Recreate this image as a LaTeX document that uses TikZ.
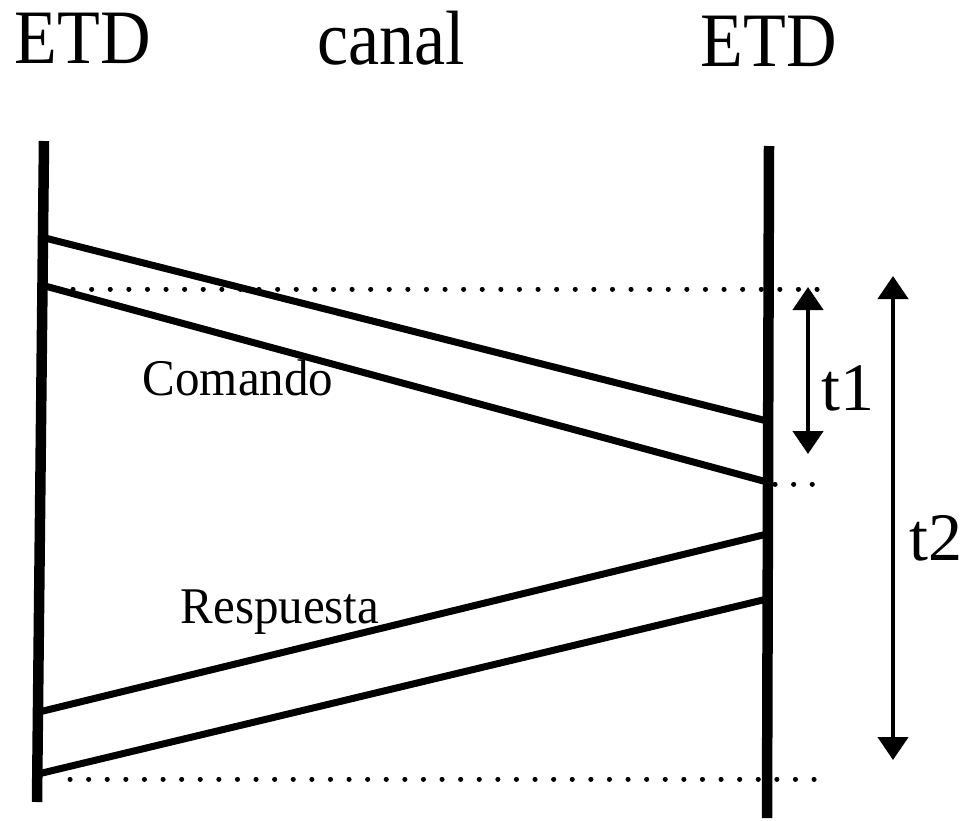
\documentclass[tikz,border=0pt]{standalone}
\usepackage{fontspec}
\setmainfont{Liberation Serif}
\usetikzlibrary{arrows.meta}
\begin{document}
\begin{tikzpicture}[x=1pt,y=-1pt,
  lifeline/.style={line width=10.5pt},
  msg/.style={line width=7pt},
  dotline/.style={line width=5pt,line cap=round,dash pattern=on 0.1pt off 18.5pt},
  dimarrow/.style={line width=4.5pt,{Triangle[width=30pt,length=23pt]}-{Triangle[width=30pt,length=23pt]}},
  title/.style={font=\fontsize{70}{70}\selectfont,anchor=base,inner sep=0pt,yscale=1.1},
  lbl/.style={font=\fontsize{49}{49}\selectfont,anchor=base,inner sep=0pt,yscale=1.05},
  tlbl/.style={font=\fontsize{68}{68}\selectfont,anchor=base,inner sep=0pt}]
\useasboundingbox (0,0) rectangle (966,820);
% titles
\node[title] (etdL) at (83,63) {ETD};
\node[title] (canal) at (391,64) {canal};
\node[title] (etdR) at (769,66) {ETD};
% lifelines
\coordinate (Ltop) at (44,141);
\coordinate (Lbot) at (37,802);
\coordinate (Rtop) at (769,146);
\coordinate (Rbot) at (767,818);
\draw[lifeline] (Ltop) -- (Lbot);
\draw[lifeline] (Rtop) -- (Rbot);
% message endpoints
\coordinate (c1s) at (45,238);
\coordinate (c1e) at (767,421);
\coordinate (c2s) at (45,286);
\coordinate (c2e) at (767,482);
\coordinate (r1s) at (39,712);
\coordinate (r1e) at (767,534);
\coordinate (r2s) at (38,774);
\coordinate (r2e) at (767,599);
\draw[msg] (c1s) -- (c1e);
\draw[msg] (c2s) -- (c2e);
\draw[msg] (r1s) -- (r1e);
\draw[msg] (r2s) -- (r2e);
% dotted guides
\coordinate (d1a) at (73,289);
\coordinate (d1b) at (835,289);
\coordinate (d2a) at (775,484);
\coordinate (d2b) at (815,484);
\coordinate (d3a) at (70,779);
\coordinate (d3b) at (815,779);
\draw[dotline] (d1a) -- (d1b);
\draw[dotline] (d2a) -- (d2b);
\draw[dotline] (d3a) -- (d3b);
% dimension arrows
\coordinate (t1a) at (808,287);
\coordinate (t1b) at (808,454);
\coordinate (t2a) at (893,276);
\coordinate (t2b) at (893,760);
\draw[dimarrow] (t1a) -- (t1b);
\draw[dimarrow] (t2a) -- (t2b);
% labels
\node[lbl] (comando) at (238,395) {Comando};
\node[lbl] (respuesta) at (280,623) {Respuesta};
\node[tlbl] (t1) at (848,410) {t1};
\node[tlbl] (t2) at (936,560) {t2};
\end{tikzpicture}
\end{document}
